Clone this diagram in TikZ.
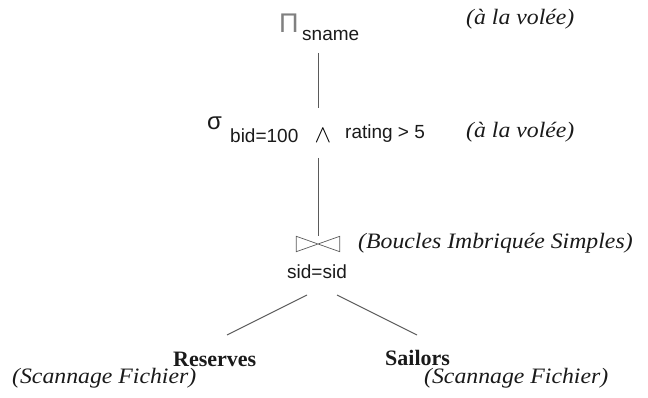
\documentclass[tikz,border=0pt]{standalone}
\usepackage{fontspec}
\usepackage{amsmath,amssymb}
\usetikzlibrary{positioning}
\newfontfamily\sansf{Liberation Sans}
\newfontfamily\notef[FakeStretch=1.08]{Liberation Serif}
\newfontfamily\relf{Liberation Serif}
\definecolor{ink}{HTML}{1A1A1A}
\definecolor{stroke}{HTML}{5A5A5A}
\tikzset{
  op/.style={inner sep=0pt,text=ink,font=\sansf\fontsize{27}{30}\selectfont},
  lbl/.style={inner sep=0pt,text=ink,font=\sansf\fontsize{19}{22}\selectfont},
  note/.style={inner sep=0pt,text=ink,font=\notef\itshape\fontsize{22}{26}\selectfont},
  rel/.style={inner sep=0pt,text=ink,font=\relf\bfseries\fontsize{22}{26}\selectfont},
  link/.style={draw=stroke,line width=0.9pt},
}

\begin{document}
\begin{tikzpicture}[x=1pt,y=-1pt]
\useasboundingbox (0,0) rectangle (648,398);
% projection
\node[op,text=black!50,anchor=base west] (proj) at (279,33) {Π};
\node[lbl,anchor=base west] (projsub) at (302,41) {sname};
\node[note,anchor=base west] (projnote) at (466,25) {(à la volée)};
% selection
\node[op,font=\sansf\fontsize{24}{28}\selectfont,anchor=base west] (sel) at (207,130) {σ};
\node[lbl,anchor=base west] (selsub) at (230,143) {bid=100};
\node[inner sep=0pt,anchor=base,font=\fontsize{26}{30}\selectfont] (selop) at (323,143) {$\wedge$};
\node[lbl,anchor=base west] (selcond) at (345,139) {rating > 5};
\node[note,anchor=base west] (selnote) at (466,138) {(à la volée)};
% join (bowtie drawn from the node box)
\node[inner sep=0pt,minimum width=43pt,minimum height=15pt] (join) at (318,244) {};
\draw[draw=stroke,line width=0.7pt] (join.north west) -- (join.south east)
  -- (join.north east) -- (join.south west) -- cycle;
\node[lbl,anchor=base] (joincond) at (317,279) {sid=sid};
\node[note,anchor=base west] (joinnote) at (358,249) {(Boucles Imbriquée Simples)};
% relations
\node[rel,anchor=base west] (res) at (173,366) {Reserves};
\node[rel,anchor=base west] (sail) at (385,365) {Sailors};
\node[note,anchor=base west] (resnote) at (12,383) {(Scannage Fichier)};
\node[note,anchor=base west] (sailnote) at (424,383) {(Scannage Fichier)};
% tree edges
\coordinate (jl) at (307,295);
\coordinate (jr) at (337,295);
\draw[link] (318,53) -- (318,108);
\draw[link] (318,158) -- (join.north);
\draw[link] (jl) -- (227,335);
\draw[link] (jr) -- (417,335);
\end{tikzpicture}
\end{document}
